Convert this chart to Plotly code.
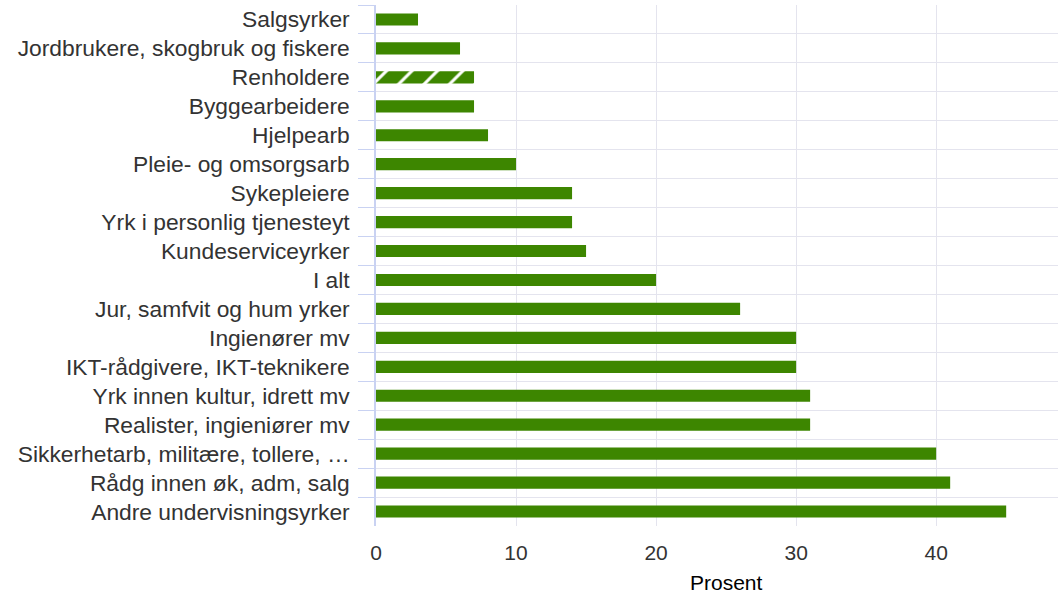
import plotly.graph_objects as go

categories = [
    "Salgsyrker",
    "Jordbrukere, skogbruk og fiskere",
    "Renholdere",
    "Byggearbeidere",
    "Hjelpearb",
    "Pleie- og omsorgsarb",
    "Sykepleiere",
    "Yrk i personlig tjenesteyt",
    "Kundeserviceyrker",
    "I alt",
    "Jur, samfvit og hum yrker",
    "Ingienører mv",
    "IKT-rådgivere, IKT-teknikere",
    "Yrk innen kultur, idrett mv",
    "Realister, ingieniører mv",
    "Sikkerhetarb, militære, tollere, …",
    "Rådg innen øk, adm, salg",
    "Andre undervisningsyrker",
]
values = [3, 6, 7, 7, 8, 10, 14, 14, 15, 20, 26, 30, 30, 31, 31, 40, 41, 45]
hatched = ["Renholdere"]
x_title = "Prosent"

green = "#3d8600"
shapes = ["/" if c in hatched else "" for c in categories]

fig = go.Figure(
    go.Bar(
        x=values,
        y=categories,
        orientation="h",
        marker=dict(
            color=green,
            line=dict(width=0),
            pattern=dict(shape=shapes, fgcolor="white", bgcolor=green,
                         fgopacity=1, size=18, solidity=0.17, fillmode="overlay"),
        ),
        width=0.42,
    )
)

fig.add_annotation(
    text=x_title, x=25, xref="x", y=0, yref="paper",
    yshift=-56, yanchor="middle", xanchor="center", showarrow=False,
    font=dict(size=21, color="#000000"),
)

fig.update_layout(
    width=1058,
    height=594,
    margin=dict(l=376, r=0, t=5, b=68, autoexpand=False),
    paper_bgcolor="white",
    plot_bgcolor="white",
    font=dict(family="Liberation Sans, Arial, sans-serif", size=22, color="#333333"),
    showlegend=False,
    xaxis=dict(
        range=[0, 48.7],
        tickvals=[0, 10, 20, 30, 40],
        showgrid=True,
        gridcolor="#e4e4ee",
        gridwidth=1,
        zeroline=False,
        showline=False,
        ticks="",
        tickfont=dict(size=21, color="#333333"),
        ticklabelstandoff=12,
    ),
    yaxis=dict(
        type="category",
        categoryorder="array",
        categoryarray=categories,
        autorange="reversed",
        tickson="boundaries",
        showgrid=True,
        gridcolor="#e4e4ee",
        gridwidth=1,
        ticks="outside",
        ticklen=16,
        tickcolor="#c9d2f2",
        showline=True,
        linecolor="#c9d2f2",
        linewidth=1.5,
        tickfont=dict(size=22.8, color="#333333"),
        ticklabelstandoff=20,
    ),
)

fig.write_html("out.html", config={"displayModeBar": False},
               post_script="document.body.style.margin='0';")
